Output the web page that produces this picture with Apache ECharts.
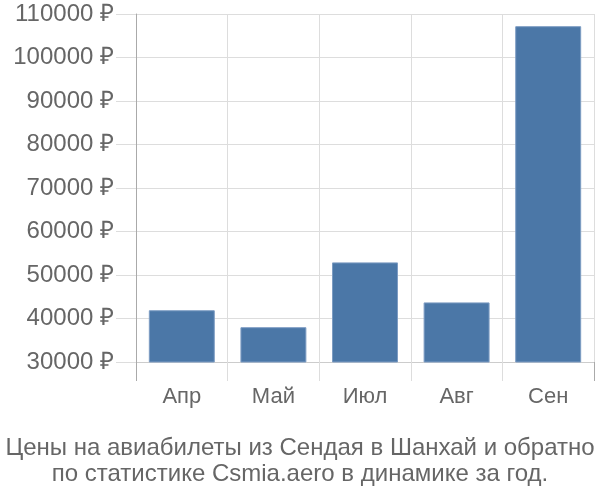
<!DOCTYPE html>
<html><head><meta charset="utf-8">
<script src="https://cdn.jsdelivr.net/npm/echarts@6/dist/echarts.min.js"></script>
<style>html,body{margin:0;padding:0;background:#fff}#c{width:600px;height:500px}</style>
</head><body><div id="c"></div>
<script>
const categories = ['Апр', 'Май', 'Июл', 'Авг', 'Сен'];
const prices = [41900, 38000, 52900, 43700, 107200];
const yMin = 30000, yMax = 110000, yStep = 10000;
const titleLines = ['Цены на авиабилеты из Сендая в Шанхай и обратно', 'по статистике Csmia.aero в динамике за год.'];

const font = 'Liberation Sans, Arial, sans-serif';
const chart = echarts.init(document.getElementById('c'), null, {renderer: 'canvas'});
chart.setOption({
  animation: false,
  title: {
    text: titleLines.join('\n'), left: 'center', top: 430,
    textStyle: {fontFamily: font, fontSize: 24, fontWeight: 'normal', color: '#666', lineHeight: 26}
  },
  grid: {left: 136, right: 6, top: 14, bottom: 138},
  xAxis: [{
    type: 'category', data: categories, boundaryGap: true,
    axisLine: {show: true, lineStyle: {color: '#ccc', width: 1}},
    axisTick: {show: true, length: 19, lineStyle: {color: '#ddd'}},
    splitLine: {show: true, lineStyle: {color: '#ddd'}},
    axisLabel: {fontFamily: font, fontSize: 22, color: '#666', margin: 24}
  }, {
    type: 'category', data: categories, position: 'bottom', boundaryGap: true,
    axisLine: {show: false},
    axisTick: {show: true, length: 19, interval: function (i) { return i === 0; }, lineStyle: {color: '#aaa'}},
    axisLabel: {show: false}, splitLine: {show: false}
  }],
  yAxis: {
    type: 'value', min: yMin, max: yMax, interval: yStep,
    axisLine: {show: true, lineStyle: {color: '#aaa'}},
    axisTick: {show: true, length: 20, lineStyle: {color: '#ddd'}},
    splitLine: {show: true, lineStyle: {color: '#ddd'}},
    axisLabel: {fontFamily: font, fontSize: 24, color: '#666', margin: 22,
      formatter: v => v + ' ₽'}
  },
  series: [{
    type: 'bar', data: prices, barWidth: '72%', xAxisIndex: 0,
    itemStyle: {color: '#4b77a7', borderColor: '#7d9cc3', borderWidth: 1}
  }]
});
</script></body></html>
